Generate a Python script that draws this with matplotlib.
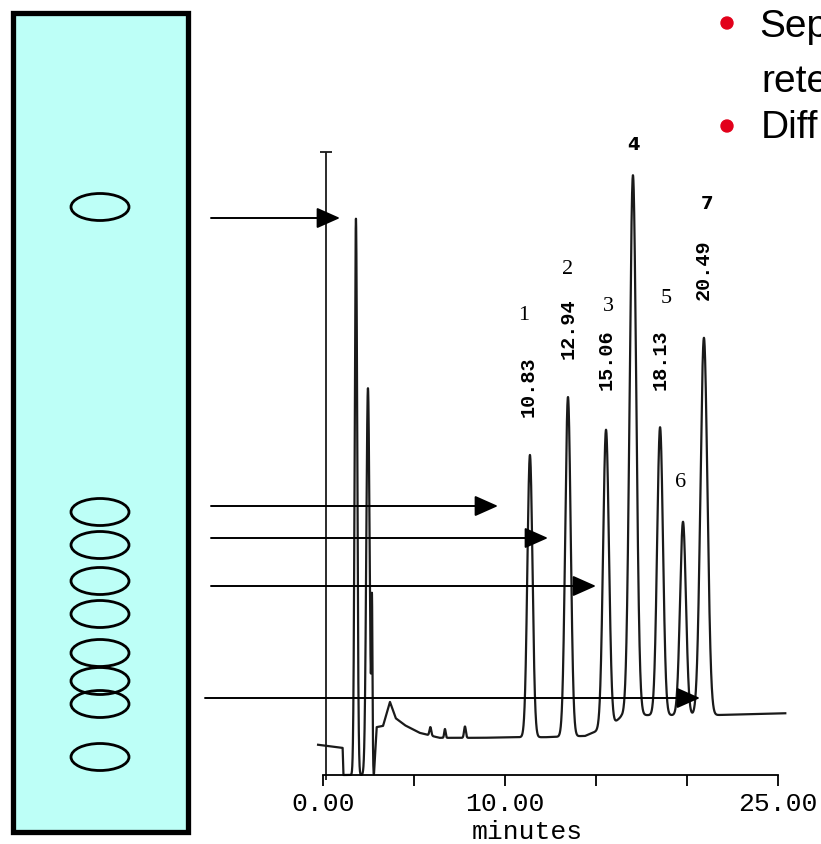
import numpy as np
import matplotlib.pyplot as plt
from matplotlib.patches import Rectangle, Ellipse, Circle

# Chromatogram data (minutes, signal units)
peak_labels = ['1', '2', '3', '4', '5', '6', '7']
peak_rt_text = ['10.83', '12.94', '15.06', None, '18.13', None, '20.49']
peak_times = [11.37, 13.46, 15.55, 17.03, 18.52, 19.78, 20.93]
peak_apex = [50.8, 60.0, 54.8, 95.2, 55.2, 40.2, 69.4]
peak_sigma = [0.14, 0.15, 0.16, 0.18, 0.16, 0.16, 0.19]

# early (solvent) peaks and small noise bumps
early_times = [1.81, 2.47, 2.69, 5.9, 6.7, 7.8]
early_apex = [88.3, 61.4, 25.7, 7.6, 7.3, 7.7]
early_sigma = [0.07, 0.09, 0.03, 0.05, 0.04, 0.05]

inject_time = 0.16
inject_top = 98.9

base_t = [-0.27, 1.08, 1.12, 2.75, 2.80, 2.95, 3.3, 3.68, 4.0, 4.5, 5.3, 6.4,
          8.6, 10.8, 12.2, 14.4, 15.9, 16.4, 17.7, 20.3, 21.4, 25.4]
base_h = [4.8, 4.3, 0.0, 0.0, 0.0, 7.6, 7.8, 11.6, 9.0, 7.9, 6.7, 5.9,
          5.9, 6.0, 6.0, 6.2, 8.0, 9.3, 9.5, 9.5, 9.5, 9.8]

# TLC spots (pixel rows on the plate) and arrows to peaks
spot_rows = [207, 512, 545, 581, 614, 653, 681, 704, 757]
arrows = [(211, 218, 340), (211, 506, 498), (211, 538, 548),
          (211, 586, 596), (205, 698, 700)]

# slide bullet text, cut off at the right edge as on the slide
bullet_lines = ['Sep', 'rete', 'Diff']

W, H = 821, 844
fig = plt.figure(figsize=(W / 100, H / 100), dpi=100)

# ---- chromatogram ----
x0, x1, y0, y1 = 323, 778, 775, 145
ax = fig.add_axes([x0 / W, (H - y0) / H, (x1 - x0) / W, (y0 - y1) / H])
ax.set_xlim(0, 25)
ax.set_ylim(0, 100)
ax.patch.set_alpha(0)

t = np.linspace(base_t[0], base_t[-1], 6000)
sig = np.interp(t, base_t, base_h)
for tc, a, s in zip(peak_times + early_times, peak_apex + early_apex,
                    peak_sigma + early_sigma):
    amp = a - np.interp(tc, base_t, base_h)
    sig = sig + amp * np.exp(-0.5 * ((t - tc) / s) ** 2)
ax.plot(t, sig, color='#1a1a1a', lw=1.6, clip_on=False)
ax.vlines(inject_time, -0.8, inject_top, color='#1a1a1a', lw=1.3, clip_on=False)
ax.plot([inject_time], [inject_top], marker='_', ms=8, mew=1.3,
        color='#1a1a1a', clip_on=False)

for sp in ['top', 'right', 'left']:
    ax.spines[sp].set_visible(False)
ax.spines['bottom'].set_linewidth(1.3)
ax.set_yticks([])
ax.set_xticks([0, 5, 10, 15, 20, 25])
ax.set_xticklabels(['0.00', '', '10.00', '', '', '25.00'],
                   family='Liberation Mono', fontsize=19)
ax.tick_params(axis='x', length=8, width=1.3, pad=4)
ax.set_xlabel('minutes', family='Liberation Mono', fontsize=19)
ax.xaxis.set_label_coords(0.45, -0.071)

# peak labels, in data units
num_pos = [(11.04, 73.0), (13.46, 80.2), (15.66, 74.4), (17.03, 100.0),
           (18.85, 75.7), (19.62, 46.5), (21.10, 90.6)]
rt_pos = [(11.26, 61.6), (13.46, 70.8), (15.55, 65.9), None,
          (18.52, 65.9), None, (20.88, 80.2)]
for lab, (tx, ty) in zip(peak_labels, num_pos):
    if lab in ('4', '7'):
        ax.text(tx, ty, lab, family='DejaVu Sans', fontweight='bold',
                fontsize=13, ha='center', va='center')
    else:
        ax.text(tx, ty, lab, family='Liberation Serif', fontsize=16,
                ha='center', va='center')
for txt, pos in zip(peak_rt_text, rt_pos):
    if txt is None:
        continue
    ax.text(pos[0], pos[1], txt, family='Liberation Mono', fontweight='bold',
            fontsize=14.5, rotation=90, ha='center', va='center')

# ---- overlay in pixel coordinates ----
ov = fig.add_axes([0, 0, 1, 1])
ov.set_xlim(0, W)
ov.set_ylim(H, 0)
ov.axis('off')
ov.patch.set_alpha(0)

ov.add_patch(Rectangle((12.5, 13), 175, 819, facecolor='#BDFFF7',
                       edgecolor='black', lw=3.8))
for yy in spot_rows:
    ov.add_patch(Ellipse((100, yy), 58, 27, facecolor='none',
                         edgecolor='black', lw=2.0))

for xs, yy, xe in arrows:
    ov.annotate('', xy=(xe, yy), xytext=(xs, yy),
                arrowprops=dict(arrowstyle='-|>,head_length=0.9,head_width=0.4',
                                color='black', lw=1.4, mutation_scale=16,
                                shrinkA=0, shrinkB=0))

# bullet text at top right
for yy in (23, 126):
    ov.add_patch(Circle((727, yy), 6, color='#E2001A'))
for (xx, yy), txt in zip([(759, 37), (761, 92), (761, 138)], bullet_lines):
    ov.text(xx, yy, txt, fontsize=28, family='Liberation Sans',
            va='baseline')

fig.savefig('out.png', dpi=100)
